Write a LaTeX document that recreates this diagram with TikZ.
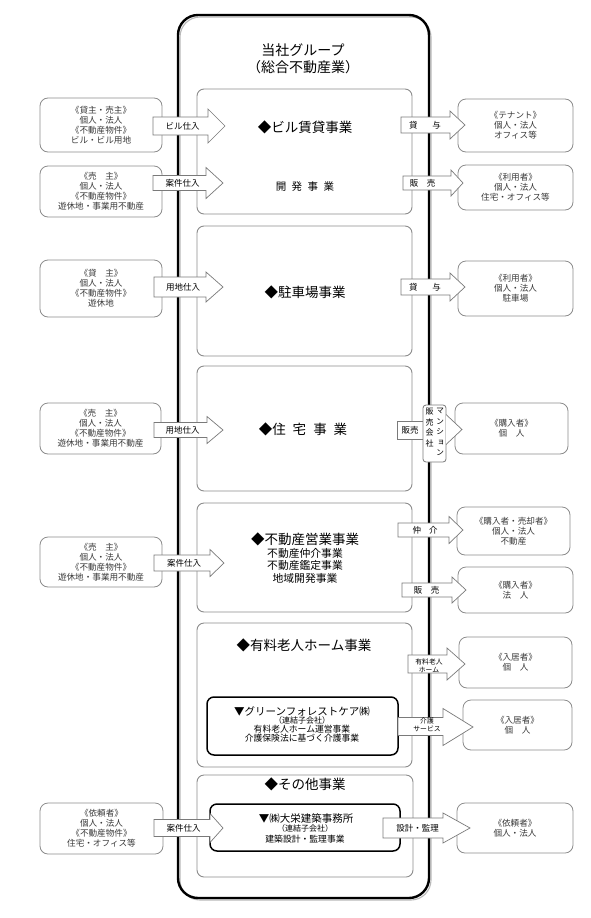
\documentclass[tikz,border=0pt]{standalone}
\usepackage{fontspec}
\setmainfont{Noto Sans CJK JP}
\newfontfamily\vertfont[RawFeature=+vert]{Noto Sans CJK JP}
\definecolor{bgray}{HTML}{8C8C8C}
\definecolor{agray}{HTML}{7A7A7A}
\definecolor{tgray}{HTML}{3A3A3A}
\tikzset{
  sect/.style={draw=bgray, line width=0.9pt, rounded corners=7pt, inner sep=0pt},
  side/.style={draw=bgray, line width=0.8pt, rounded corners=8pt, fill=white, inner sep=0pt,
    text=tgray, font=\fontsize{8.6}{9.9}\selectfont, align=center},
  innerbox/.style={draw=black, line width=1.5pt, rounded corners=7pt, fill=white, inner sep=0pt},
  barr/.style={draw=agray, line width=0.7pt, fill=white, line join=miter},
  lab/.style={inner sep=0pt, font=\fontsize{8.5}{9.5}\selectfont, align=center},
  smalllab/.style={inner sep=0pt, font=\fontsize{6.8}{8}\selectfont, align=center},
  heading/.style={inner sep=0pt, font=\fontsize{13.5}{15}\selectfont},
  subtext/.style={inner sep=0pt, font=\fontsize{10.8}{12.5}\selectfont, align=center},
  midtext/.style={inner sep=0pt, font=\fontsize{10.5}{12}\selectfont},
  tinytext/.style={inner sep=0pt, font=\fontsize{8.8}{9}\selectfont},
  paren/.style={inner sep=0pt, font=\fontsize{8}{9}\selectfont},
}
% style, name, x0, y0, x1, y1, text
\newcommand\boxat[7]{\node[#1, minimum width={#5-#3}, minimum height={#6-#4}] (#2) at ({(#3+#5)/2},{(#4+#6)/2}) {#7};}
% name, x start, x head, x tip, y, shaft half, head half, label x, label
\newcommand\rarrow[9]{%
  \draw[barr] (#2,#5-#6) -- (#3,#5-#6) -- (#3,#5-#7) -- (#4,#5) -- (#3,#5+#7) -- (#3,#5+#6) -- (#2,#5+#6) -- cycle;
  \node[lab] (#1) at (#8,#5) {#9};}
\begin{document}
\begin{tikzpicture}[x=1pt, y=-1pt]
\useasboundingbox (0,0) rectangle (590,918);
\fill[white] (0,0) rectangle (590,918);

% outer group frame
\draw[gray!55, line width=1.1pt, rounded corners=20pt] (180,17) rectangle (431,900);
\boxat{draw=black, line width=2.4pt, rounded corners=20pt, inner sep=0pt}{outer}{178}{15}{429}{898}{}
\node[inner sep=0pt, font=\fontsize{14}{17}\selectfont, align=center] (title) at (303,58.5) {当社グループ\\（総合不動産業）};

% business sections
\boxat{sect}{s1}{197}{89}{412}{214}{}
\boxat{sect}{s2}{197}{226}{412}{356}{}
\boxat{sect}{s3}{197}{366}{412}{491}{}
\boxat{sect}{s4}{197}{503}{412}{612}{}
\boxat{sect}{s5}{197}{623}{412}{767}{}
\boxat{sect}{s6}{197}{775}{413}{877}{}

\node[heading] (h1) at (305,127) {◆ビル賃貸事業};
\node[midtext] (h1b) at (305,187) {開\hspace{5.5pt}発\hspace{5.5pt}事\hspace{5.5pt}業};
\node[heading] (h2) at (305,292) {◆駐車場事業};
\node[heading] (h3) at (303,429) {◆住\hspace{7pt}宅\hspace{7pt}事\hspace{7pt}業};
\node[heading] (h4) at (305,539) {◆不動産営業事業};
\node[subtext] (h4b) at (305,565.5) {不動産仲介事業\\不動産鑑定事業\\地域開発事業};
\node[heading] (h5) at (304,645) {◆有料老人ホーム事業};
\node[heading] (h6) at (305,784) {◆その他事業};

% subsidiaries
\boxat{innerbox}{g5}{207}{697}{398}{755}{}
\node[midtext] (g5a) at (302,711) {▼グリーンフォレストケア㈱};
\node[paren] (g5b) at (302,720) {（連結子会社）};
\node[tinytext] (g5c) at (302,728.7) {有料老人ホーム運営事業};
\node[tinytext] (g5d) at (302,737.7) {介護保険法に基づく介護事業};

\boxat{innerbox}{g6}{210}{804}{400}{851}{}
\node[midtext] (g6a) at (306,818) {▼㈱大栄建築事務所};
\node[paren] (g6b) at (305,828.3) {（連結子会社）};
\node[tinytext] (g6c) at (305,839) {建築設計・監理事業};

% left partner boxes
\boxat{side}{l1}{40}{98}{162}{152}{《貸主・売主》\\個人・法人\\《不動産物件》\\ビル・ビル用地}
\boxat{side}{l2}{40}{166}{162}{217}{《売　主》\\個人・法人\\《不動産物件》\\遊休地・事業用不動産}
\boxat{side}{l3}{40}{260}{162}{317}{《貸　主》\\個人・法人\\《不動産物件》\\遊休地}
\boxat{side}{l4}{40}{403}{161}{454}{《売　主》\\個人・法人\\《不動産物件》\\遊休地・事業用不動産}
\boxat{side}{l5}{40}{537}{162}{587}{《売　主》\\個人・法人\\《不動産物件》\\遊休地・事業用不動産}
\boxat{side}{l6}{40}{803}{163}{854}{《依頼者》\\個人・法人\\《不動産物件》\\住宅・オフィス等}

% right partner boxes
\boxat{side}{r1}{458}{99}{573}{152}{《テナント》\\個人・法人\\オフィス等}
\boxat{side}{r2}{458}{165}{573}{210}{《利用者》\\個人・法人\\住宅・オフィス等}
\boxat{side}{r3}{458}{261}{573}{316}{《利用者》\\個人・法人\\駐車場}
\boxat{side}{r4}{455}{403}{568}{454}{《購入者》\\個　人}
\boxat{side}{r5}{457}{507}{570}{555}{《購入者・売却者》\\個人・法人\\不動産}
\boxat{side}{r6}{458}{567}{573}{613}{《購入者》\\法　人}
\boxat{side}{r7}{459}{637}{572}{688}{《入居者》\\個　人}
\boxat{side}{r8}{463}{700}{572}{750}{《入居者》\\個　人}
\boxat{side}{r9}{457}{803}{573}{853}{《依頼者》\\個人・法人}

% left block arrows
\rarrow{la1}{153}{208}{225}{126}{9}{17}{182.5}{ビル仕入}
\rarrow{la2}{153}{206}{223}{183}{7.5}{15.5}{182.5}{案件仕入}
\rarrow{la3}{154}{206}{223}{287}{10}{15}{183}{用地仕入}
\rarrow{la4}{154}{207}{223}{430}{7.5}{13.5}{182.5}{用地仕入}
\rarrow{la5}{154}{210}{224}{563}{8}{13.5}{184}{案件仕入}
\rarrow{la6}{154}{210}{223}{828}{8.5}{14.5}{183.5}{案件仕入}

% right block arrows
\rarrow{ra1}{401}{450}{465}{125}{8}{14}{425}{貸\hspace{15pt}与}
\rarrow{ra2}{403}{451}{463}{183}{7}{13}{422.5}{販\hspace{8.5pt}売}
\rarrow{ra3}{401}{450}{465}{287}{8}{14}{425}{貸\hspace{15pt}与}
\rarrow{ra5}{398}{449}{463}{530}{7}{13.5}{425}{仲\hspace{8pt}介}
\rarrow{ra6}{402}{452}{466}{590}{7}{13}{426.5}{販\hspace{8.5pt}売}
\draw[barr] (408,655) -- (447,655) -- (447,648) -- (465,664) -- (447,680) -- (447,673) -- (408,673) -- cycle;
\node[smalllab] (ra7) at (429,665.5) {有料老人\\ホーム};
\draw[barr] (398,717.5) -- (443,717.5) -- (443,708.5) -- (473,727) -- (443,745.5) -- (443,735.5) -- (398,735.5) -- cycle;
\node[smalllab] (ra8) at (427,724.5) {介護\\サービス};
\rarrow{ra9}{383}{443}{470}{828}{10}{15}{417.5}{設計・監理}

% housing: sales via condominium sales company
\boxat{barr}{hsale}{397}{421}{424}{439}{}
\node[lab] (hsalet) at (410,430) {販売};
\boxat{draw=agray, line width=0.8pt, rounded corners=3pt, fill=white, inner sep=0pt}{msc}{423}{405}{446}{462}{}
\node[inner sep=0pt, font=\vertfont\fontsize{8}{10.5}\selectfont, align=center] (msc1) at (429.5,427.8) {販\\売\\会\\社};
\node[inner sep=0pt, font=\vertfont\fontsize{8}{10.4}\selectfont, align=center] (msc2) at (440,432) {マ\\ン\\シ\\ョ\\ン};
\coordinate (mt1) at (446,414.5);
\coordinate (mtip) at (462,429.5);
\coordinate (mt2) at (446,444.5);
\fill[white] (mt1) -- (mtip) -- (mt2) -- cycle;
\draw[draw=agray, line width=0.7pt, line join=miter] (mt1) -- (mtip) -- (mt2);
\end{tikzpicture}
\end{document}
